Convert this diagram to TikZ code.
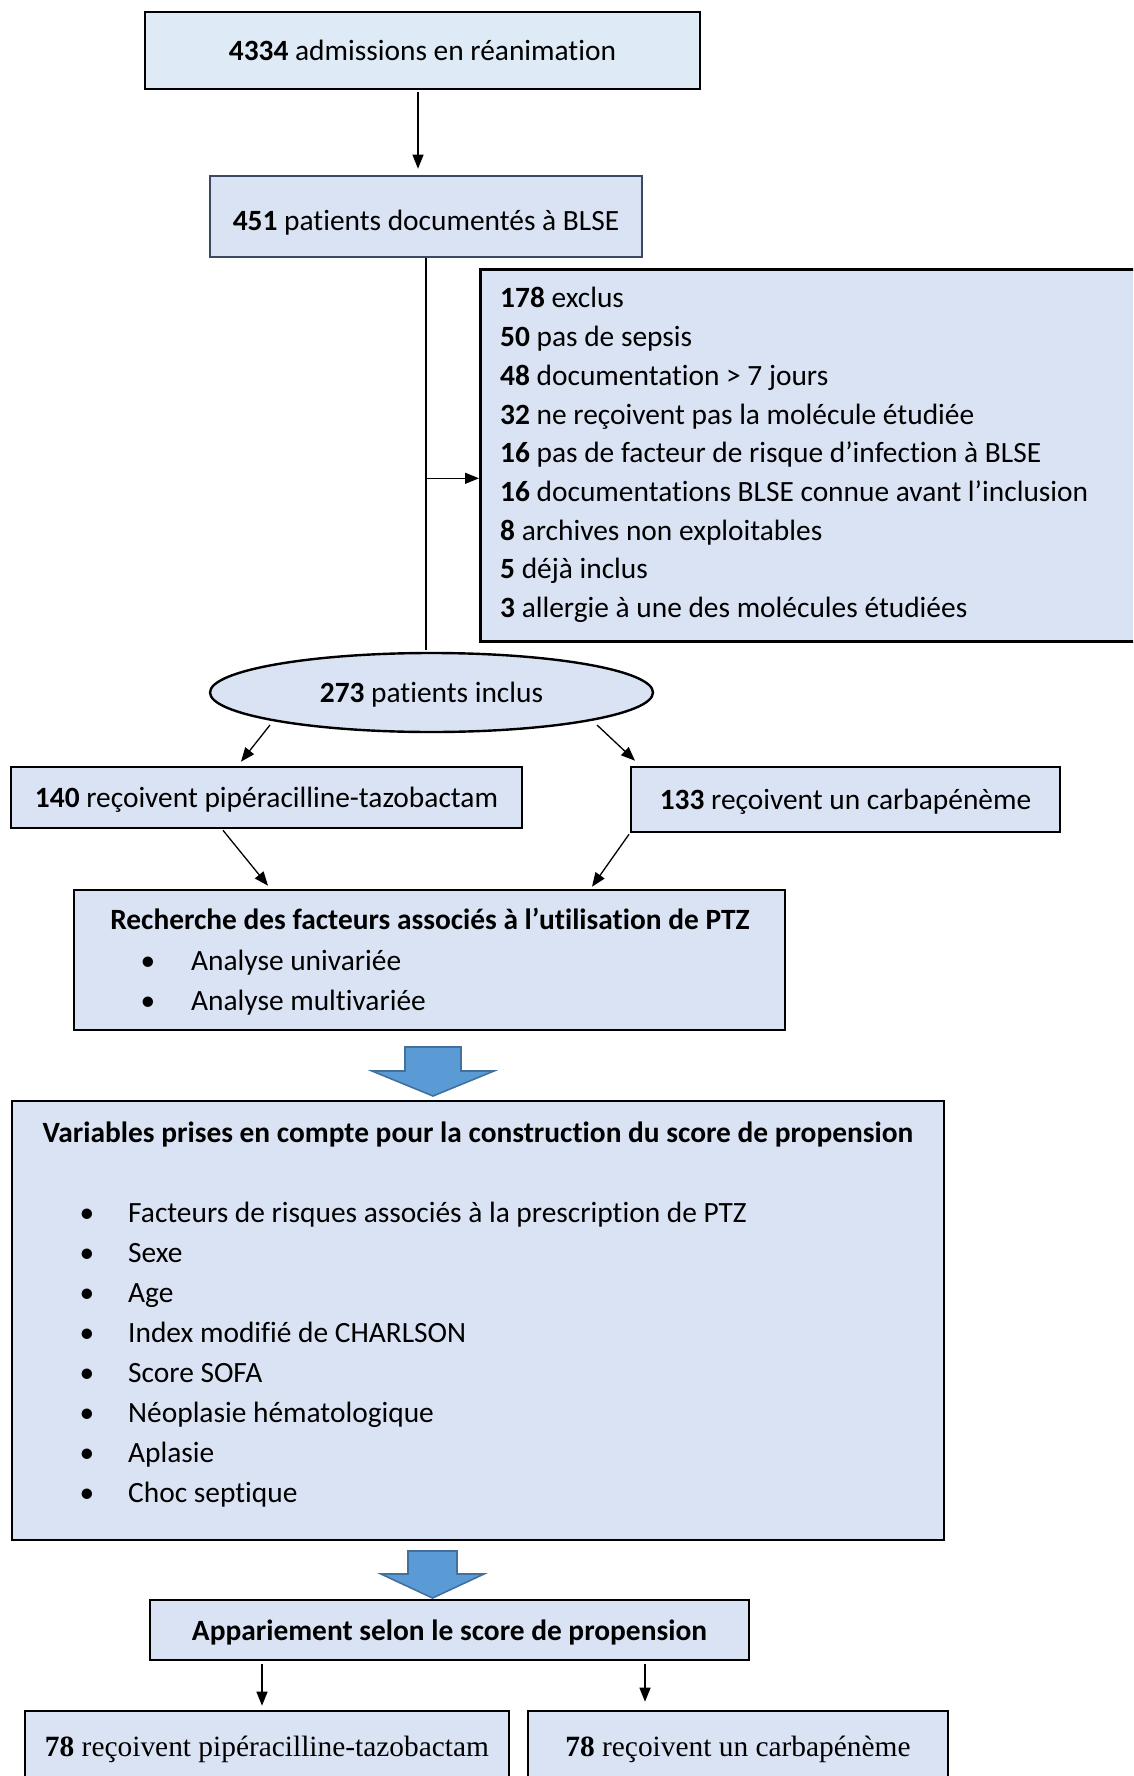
\documentclass[tikz,border=0pt]{standalone}
\usepackage{fontspec}
\setmainfont{Carlito}[Ligatures={NoCommon,NoContextual,NoRare,NoDiscretionary}]
\newfontfamily\seriffont{Liberation Serif}
\usetikzlibrary{arrows.meta,shapes.geometric,calc}
\definecolor{boxfill}{HTML}{DAE3F3}
\definecolor{boxfillA}{HTML}{DEEAF6}
\definecolor{slate}{HTML}{3B4A63}
\definecolor{barrowfill}{HTML}{5B9BD5}
\definecolor{barrowline}{HTML}{41719C}
\begin{document}
\begin{tikzpicture}[x=1pt,y=-1pt,
  every node/.style={font=\fontsize{29.4}{38.7}\selectfont},
  box/.style={draw=black,line width=2.6pt,fill=boxfill,inner sep=0pt,text height=23pt,text depth=3pt},
  txt/.style={inner sep=0pt,text height=23pt,text depth=3pt},
  conn/.style={line width=1.3pt},
  arr/.style={line width=1.3pt,-{Triangle[length=14pt,width=11pt]}},
  blockarrow/.style={fill=barrowfill,draw=barrowline,line width=1.6pt,line join=miter}]
\useasboundingbox (0,0) rectangle (1133,1776);
\clip (0,0) rectangle (1133,1776);

% boxes
\node[box,fill=boxfillA,minimum width=555pt,minimum height=77pt] (b1) at (422.5,50.5) {\textbf{4334} admissions en réanimation};
\node[box,draw=slate,minimum width=432pt,minimum height=81pt,text height=32pt] (b2) at (426,216.5) {\textbf{451} patients documentés à BLSE};

\node[box,anchor=north west,minimum width=700pt,minimum height=372pt] (ex) at (479,268) {};
\foreach \n/\t [count=\i] in {178/exclus,50/pas de sepsis,48/documentation > 7 jours,32/ne reçoivent pas la molécule étudiée,16/pas de facteur de risque d’infection à BLSE,16/documentations BLSE connue avant l’inclusion,8/archives non exploitables,5/déjà inclus,3/allergie à une des molécules étudiées}
  \node[txt,anchor=west] (ex\i) at (500,{298+38.7*(\i-1)}) {\textbf{\n} \t};

\node[draw=black,line width=2.4pt,fill=boxfill,ellipse,inner sep=0pt,minimum width=443pt,minimum height=79pt,text height=23pt,text depth=3pt] (el) at (431.5,692.5) {\textbf{273} patients inclus};

\node[box,minimum width=511pt,minimum height=61pt] (ptz) at (266.5,797.5) {\textbf{140} reçoivent pipéracilline-tazobactam};
\node[box,minimum width=429pt,minimum height=65pt] (carb) at (845.5,799.5) {\textbf{133} reçoivent un carbapénème};

\node[box,minimum width=711pt,minimum height=140pt] (rech) at (429.5,960) {};
\node[txt] (rechT) at (430,919) {\textbf{Recherche des facteurs associés à l’utilisation de PTZ}};
\node[txt] (rb1) at (148,960) {•};
\node[txt,anchor=west] (rt1) at (191,960) {Analyse univariée};
\node[txt] (rb2) at (148,1000) {•};
\node[txt,anchor=west] (rt2) at (191,1000) {Analyse multivariée};

\node[box,minimum width=932pt,minimum height=439pt] (big) at (478,1320.5) {};
\node[txt] (bigT) at (478,1132) {\textbf{Variables prises en compte pour la construction du score de propension}};
\foreach \t [count=\i] in {Facteurs de risques associés à la prescription de PTZ,Sexe,Age,Index modifié de CHARLSON,Score SOFA,Néoplasie hématologique,Aplasie,Choc septique}{
  \node[txt] (vb\i) at (87,{1212+40*(\i-1)}) {•};
  \node[txt,anchor=west] (vt\i) at (128,{1212+40*(\i-1)}) {\t};
}

\node[box,minimum width=599pt,minimum height=60pt] (app) at (449.5,1630) {\textbf{Appariement selon le score de propension}};

\node[box,minimum width=484pt,minimum height=74pt,text height=21pt,text depth=5pt,font=\seriffont\fontsize{29.4}{38.7}\selectfont] (bl) at (267,1748) {\textbf{78} reçoivent pipéracilline-tazobactam};
\node[box,minimum width=420pt,minimum height=74pt,text height=21pt,text depth=5pt,font=\seriffont\fontsize{29.4}{38.7}\selectfont] (brr) at (738,1748) {\textbf{78} reçoivent un carbapénème};

% connectors
\draw[arr] ([shift={(-4.5,2)}]b1.south) -- ([shift={(-8,-6)}]b2.north);
\draw[conn] (b2.south) -- ($(b2.south |- el.north)+(0,-2)$);
\path (b2.south) ++(0,220) coordinate (brc);
\draw[arr] (brc) -- (brc -| ex.west);
\draw[arr] ([shift={(-161.5,32.5)}]el.center) -- ([shift={(-25.5,-4)}]ptz.north);
\draw[arr] ([shift={(165.5,32.5)}]el.center) -- ([shift={(-210.5,-5)}]carb.north);
\draw[arr] ([shift={(-43.5,1)}]ptz.south) -- ([shift={(-161.5,-3)}]rech.north);
\draw[arr] ([shift={(-216.5,1)}]carb.south) -- ([shift={(162.5,-2)}]rech.north);
\draw[arr] ([shift={(-187.5,3)}]app.south) -- ([shift={(-5,-4)}]bl.north);
\draw[arr] ([shift={(195.5,3)}]app.south) -- ([shift={(-93,-8)}]brr.north);

% block arrows
\draw[blockarrow] (405,1047) -- (461,1047) -- (461,1071) -- (494,1071) -- (433,1096) -- (372,1071) -- (405,1071) -- cycle;
\draw[blockarrow] (408,1551) -- (457,1551) -- (457,1574) -- (484,1574) -- (432.5,1598) -- (381,1574) -- (408,1574) -- cycle;
\end{tikzpicture}
\end{document}
